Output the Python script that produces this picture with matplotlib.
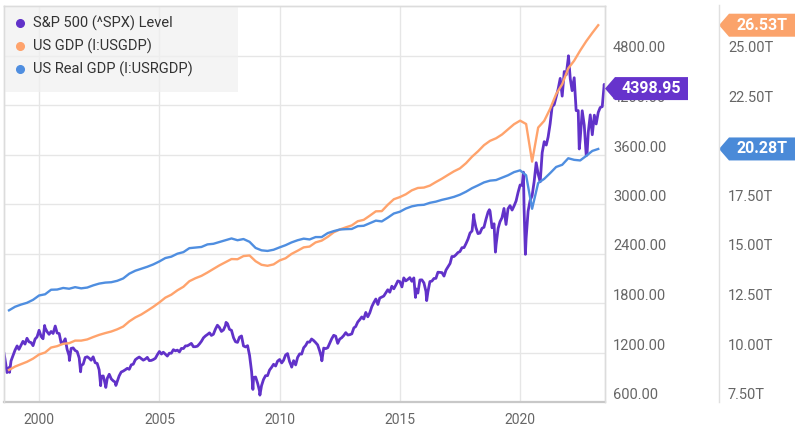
import numpy as np
import pandas as pd
import matplotlib
matplotlib.use("Agg")
import matplotlib.pyplot as plt
from matplotlib.lines import Line2D
from matplotlib.patches import Polygon, Rectangle
from matplotlib.transforms import blended_transform_factory, offset_copy

plt.rcParams['font.family'] = ['Roboto', 'DejaVu Sans']

# S&P 500 month-end closes, Jul 1998 .. Jun 2023
spx_monthly = [
    1120.67, 957.28, 1017.01, 1098.67, 1163.63, 1229.23,
    1279.64, 1238.33, 1286.37, 1335.18, 1301.84, 1372.71, 1328.72, 1320.41, 1282.71, 1362.93, 1388.91, 1469.25,
    1394.46, 1366.42, 1498.58, 1452.43, 1420.60, 1454.60, 1430.83, 1517.68, 1436.51, 1429.40, 1314.95, 1320.28,
    1366.01, 1239.94, 1160.33, 1249.46, 1255.82, 1224.42, 1211.23, 1133.58, 1040.94, 1059.78, 1139.45, 1148.08,
    1130.20, 1106.73, 1147.39, 1076.92, 1067.14, 989.82, 911.62, 916.07, 815.28, 885.76, 936.31, 879.82,
    855.70, 841.15, 848.18, 916.92, 963.59, 974.50, 990.31, 1008.01, 995.97, 1050.71, 1058.20, 1111.92,
    1131.13, 1144.94, 1126.21, 1107.30, 1120.68, 1140.84, 1101.72, 1104.24, 1114.58, 1130.20, 1173.82, 1211.92,
    1181.27, 1203.60, 1180.59, 1156.85, 1191.50, 1191.33, 1234.18, 1220.33, 1228.81, 1207.01, 1249.48, 1248.29,
    1280.08, 1280.66, 1294.87, 1310.61, 1270.09, 1270.20, 1276.66, 1303.82, 1335.85, 1377.94, 1400.63, 1418.30,
    1438.24, 1406.82, 1420.86, 1482.37, 1530.62, 1503.35, 1455.27, 1473.99, 1526.75, 1549.38, 1481.14, 1468.36,
    1378.55, 1330.63, 1322.70, 1385.59, 1400.38, 1280.00, 1267.38, 1282.83, 1166.36, 968.75, 896.24, 903.25,
    825.88, 735.09, 797.87, 872.81, 919.14, 919.32, 987.48, 1020.62, 1057.08, 1036.19, 1095.63, 1115.10,
    1073.87, 1104.49, 1169.43, 1186.69, 1089.41, 1030.71, 1101.60, 1049.33, 1141.20, 1183.26, 1180.55, 1257.64,
    1286.12, 1327.22, 1325.83, 1363.61, 1345.20, 1320.64, 1292.28, 1218.89, 1131.42, 1253.30, 1246.96, 1257.60,
    1312.41, 1365.68, 1408.47, 1397.91, 1310.33, 1362.16, 1379.32, 1406.58, 1440.67, 1412.16, 1416.18, 1426.19,
    1498.11, 1514.68, 1569.19, 1597.57, 1630.74, 1606.28, 1685.73, 1632.97, 1681.55, 1756.54, 1805.81, 1848.36,
    1782.59, 1859.45, 1872.34, 1883.95, 1923.57, 1960.23, 1930.67, 2003.37, 1972.29, 2018.05, 2067.56, 2058.90,
    1994.99, 2104.50, 2067.89, 2085.51, 2107.39, 2063.11, 2103.84, 1972.18, 1920.03, 2079.36, 2080.41, 2043.94,
    1940.24, 1932.23, 2059.74, 2065.30, 2096.95, 2098.86, 2173.60, 2170.95, 2168.27, 2126.15, 2198.81, 2238.83,
    2278.87, 2363.64, 2362.72, 2384.20, 2411.80, 2423.41, 2470.30, 2471.65, 2519.36, 2575.26, 2647.58, 2673.61,
    2823.81, 2713.83, 2640.87, 2648.05, 2705.27, 2718.37, 2816.29, 2901.52, 2913.98, 2711.74, 2760.17, 2506.85,
    2704.10, 2784.49, 2834.40, 2945.83, 2752.06, 2941.76, 2980.38, 2926.46, 2976.74, 3037.56, 3140.98, 3230.78,
    3225.52, 2954.22, 2584.59, 2912.43, 3044.31, 3100.29, 3271.12, 3500.31, 3363.00, 3269.96, 3621.63, 3756.07,
    3714.24, 3811.15, 3972.89, 4181.17, 4204.11, 4297.50, 4395.26, 4522.68, 4307.54, 4605.38, 4567.00, 4766.18,
    4515.55, 4373.94, 4530.41, 4131.93, 4132.15, 3785.38, 4130.29, 3955.00, 3585.62, 3871.98, 4080.11, 3839.50,
    4076.60, 3970.15, 4109.31, 4169.48, 4179.83, 4450.38,
]

# a few intra-month weekly highs/lows visible on the chart
spx_extra_dates = [
    '1998-07-17', '1998-10-08', '2000-03-24', '2000-09-01', '2001-04-04', '2001-09-21',
    '2002-07-23', '2002-10-09', '2003-03-11', '2007-10-09', '2008-11-20', '2009-03-06',
    '2010-07-02', '2011-10-03', '2015-08-25', '2016-02-11', '2018-01-26', '2018-09-20',
    '2018-12-21', '2020-02-19', '2020-03-20', '2022-01-03', '2022-06-16', '2022-10-12',
    '2023-07-07',
]
spx_extra_values = [
    1186.75, 959.44, 1527.46, 1520.77, 1103.25, 965.80,
    797.70, 776.76, 800.73, 1565.15, 752.44, 683.38,
    1022.58, 1099.23, 1867.61, 1829.08, 2872.87, 2930.75,
    2416.62, 3386.15, 2390.00, 4796.56, 3666.77, 3600.00,
    4398.95,
]

# quarterly GDP, trillions USD, Q3 1998 .. Q1 2023
gdp_nominal = [
    9.12, 9.29,
    9.41, 9.53, 9.69, 9.90,
    10.00, 10.25, 10.32, 10.44,
    10.47, 10.60, 10.60, 10.66,
    10.78, 10.89, 10.98, 11.06,
    11.17, 11.31, 11.57, 11.77,
    11.92, 12.11, 12.31, 12.53,
    12.77, 12.92, 13.14, 13.32,
    13.60, 13.75, 13.87, 14.04,
    14.22, 14.40, 14.56, 14.72,
    14.71, 14.87, 14.90, 14.61,
    14.43, 14.38, 14.45, 14.65,
    14.76, 14.98, 15.14, 15.31,
    15.35, 15.56, 15.65, 15.84,
    16.07, 16.21, 16.32, 16.42,
    16.63, 16.70, 16.91, 17.13,
    17.14, 17.46, 17.74, 17.85,
    17.99, 18.19, 18.31, 18.33,
    18.43, 18.61, 18.78, 18.97,
    19.15, 19.30, 19.56, 19.89,
    20.16, 20.47, 20.69, 20.82,
    21.01, 21.27, 21.53, 21.71,
    21.54, 19.64, 21.36, 21.70,
    22.31, 23.05, 23.55, 24.35,
    24.74, 25.25, 25.72, 26.14,
    26.53,
]
gdp_real = [
    12.13, 12.31,
    12.42, 12.51, 12.66, 12.88,
    12.94, 13.17, 13.18, 13.26,
    13.22, 13.30, 13.24, 13.28,
    13.39, 13.48, 13.53, 13.55,
    13.62, 13.74, 13.98, 14.13,
    14.23, 14.33, 14.45, 14.60,
    14.77, 14.84, 14.99, 15.07,
    15.27, 15.30, 15.33, 15.46,
    15.49, 15.58, 15.67, 15.76,
    15.67, 15.73, 15.59, 15.28,
    15.16, 15.13, 15.19, 15.31,
    15.42, 15.56, 15.67, 15.75,
    15.71, 15.83, 15.83, 16.03,
    16.13, 16.21, 16.23, 16.24,
    16.38, 16.40, 16.53, 16.66,
    16.62, 16.81, 17.02, 17.11,
    17.27, 17.38, 17.44, 17.46,
    17.56, 17.62, 17.71, 17.78,
    17.86, 17.97, 18.12, 18.30,
    18.44, 18.59, 18.68, 18.71,
    18.83, 18.95, 19.11, 19.20,
    18.95, 17.26, 18.56, 18.77,
    19.06, 19.37, 19.48, 19.81,
    19.73, 19.70, 19.93, 20.18,
    20.28,
]

spx_ticks = [600, 1200, 1800, 2400, 3000, 3600, 4200, 4800]
gdp_ticks = [7.5, 10.0, 12.5, 15.0, 17.5, 20.0, 22.5, 25.0]
year_ticks = [2000, 2005, 2010, 2015, 2020]
labels = ['S&P 500 (^SPX) Level', 'US GDP (I:USGDP)', 'US Real GDP (I:USRGDP)']

c_spx, c_gdp, c_real = '#6132c9', '#ffa36c', '#4f8ee0'
c_tick = '#666666'

spx = pd.concat([
    pd.Series(spx_monthly, index=pd.date_range('1998-07-31', periods=len(spx_monthly), freq='ME')),
    pd.Series(spx_extra_values, index=pd.to_datetime(spx_extra_dates)),
]).sort_index()
gdp_dates = pd.date_range('1998-09-30', periods=len(gdp_nominal), freq='QE')

W, H = 802, 441
fig = plt.figure(figsize=(W / 100, H / 100), dpi=100)
ax = fig.add_axes([4 / W, (H - 402) / H, 601 / W, 396 / H])
ax2 = ax.twinx()

ax.plot(spx.index, spx.values, color=c_spx, lw=2.0, solid_joinstyle='round')
ax2.plot(gdp_dates, gdp_nominal, color=c_gdp, lw=1.7)
ax2.plot(gdp_dates, gdp_real, color=c_real, lw=1.7)

ax.set_xlim(pd.Timestamp('1998-07-16'), pd.Timestamp('2023-07-12'))
ax.set_ylim(600, 5400)
ax2.set_ylim(7.5, 27.5)

ax.set_xticks([pd.Timestamp(f'{y}-01-01') for y in year_ticks])
ax.set_xticklabels([str(y) for y in year_ticks])
ax.tick_params(axis='x', length=0, pad=8, labelsize=10, labelcolor=c_tick)
ax.set_yticks(spx_ticks[1:])
ax.tick_params(axis='y', length=0, labelleft=False)
ax2.set_yticks([])
ax.grid(True, color='#e6e6e6', lw=1)
ax.set_axisbelow(True)
for ax_ in (ax, ax2):
    for s in ax_.spines.values():
        s.set_color('#dcdcdc')
        s.set_linewidth(1)
ax.spines['bottom'].set_color('#c8c8c8')
ax.spines['bottom'].set_linewidth(1.6)
ax2.spines['bottom'].set_visible(False)

# axis value labels, sitting just above their gridlines
t1 = offset_copy(blended_transform_factory(ax.transAxes, ax.transData), fig=fig, x=0, y=3, units='dots')
for v in spx_ticks:
    ax.text((613 - 4) / 601, v, f'{v:.2f}', transform=t1, ha='left', va='baseline',
            fontsize=10.5, color=c_tick, clip_on=False)
t2 = offset_copy(blended_transform_factory(ax2.transAxes, ax2.transData), fig=fig, x=0, y=3, units='dots')
for v in gdp_ticks:
    ax2.text((728 - 4) / 601, v, f'{v:.2f}T', transform=t2, ha='left', va='baseline',
             fontsize=10.5, color=c_tick, clip_on=False)

fig.add_artist(Line2D([719 / W, 719 / W], [(H - 402) / H, (H - 5) / H], color='#e0e0e0', lw=1))

# legend box
ax.add_patch(Rectangle((0, (402 - 92) / 396), (238 - 4) / 601, 1 - (402 - 92) / 396,
                       transform=ax.transAxes, facecolor='#f0f0f0', alpha=0.7,
                       edgecolor='none', zorder=5))
for i, (lab, col) in enumerate(zip(labels, [c_spx, c_gdp, c_real])):
    yy = 1 - (23 + 23 * i) / H
    fig.add_artist(Line2D([20 / W], [yy], marker='o', ms=5.5, color=col, mec=col))
    fig.text(33 / W, yy, lab, fontsize=10.5, color='#333333', va='center', ha='left')


def value_tag(axis, val, tip_x, right_x, text, color):
    fig.canvas.draw()
    y = axis.transData.transform((0, val))[1]
    hh, head = 11.5, 10
    verts = [(tip_x, y), (tip_x + head, y + hh), (right_x, y + hh),
             (right_x, y - hh), (tip_x + head, y - hh)]
    fig.add_artist(Polygon([(vx / W, vy / H) for vx, vy in verts], closed=True,
                           transform=fig.transFigure, facecolor=color, edgecolor='none'))
    fig.text((tip_x + head + right_x) / 2 / W, y / H, text, color='white', fontsize=11.5,
             fontweight='bold', ha='center', va='center')


value_tag(ax, spx.values[-1], 605, 688, f'{spx.values[-1]:.2f}', '#6633cc')
value_tag(ax2, gdp_nominal[-1], 719, 795, f'{gdp_nominal[-1]:.2f}T', '#fba36b')
value_tag(ax2, gdp_real[-1], 719, 795, f'{gdp_real[-1]:.2f}T', '#4a8ad8')

fig.savefig('out.png', dpi=100)
